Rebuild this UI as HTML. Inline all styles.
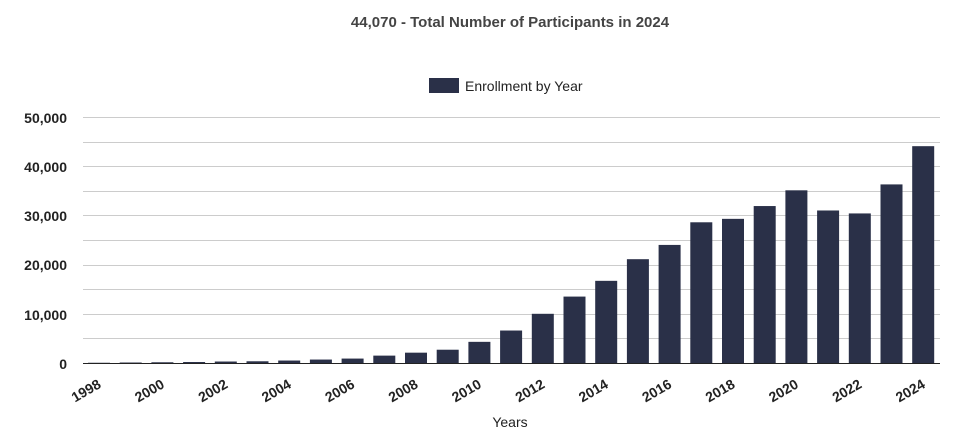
<!DOCTYPE html>
<html><head><meta charset="utf-8"><style>body{margin:0;background:#fff}</style></head>
<body>
<svg width="972" height="428" xmlns="http://www.w3.org/2000/svg" font-family="Liberation Sans, sans-serif">
<rect width="972" height="428" fill="#fff"/>
<text x="510" y="27" text-anchor="middle" font-size="15" font-weight="bold" fill="#444">44,070 - Total Number of Participants in 2024</text>
<rect x="429" y="78" width="30" height="15" fill="#2a3048"/>
<text x="465" y="91" font-size="14" fill="#222">Enrollment by Year</text>
<g stroke="#ccc" stroke-width="1">
<line x1="83" x2="940" y1="117.5" y2="117.5"/><line x1="83" x2="940" y1="142.5" y2="142.5"/>
<line x1="83" x2="940" y1="166.5" y2="166.5"/><line x1="83" x2="940" y1="191.5" y2="191.5"/>
<line x1="83" x2="940" y1="215.5" y2="215.5"/><line x1="83" x2="940" y1="240.5" y2="240.5"/>
<line x1="83" x2="940" y1="265.5" y2="265.5"/><line x1="83" x2="940" y1="289.5" y2="289.5"/>
<line x1="83" x2="940" y1="314.5" y2="314.5"/><line x1="83" x2="940" y1="338.5" y2="338.5"/>
</g>
<g font-size="14" font-weight="bold" fill="#222" text-anchor="end">
<text x="67" y="123">50,000</text><text x="67" y="172">40,000</text><text x="67" y="221">30,000</text>
<text x="67" y="270">20,000</text><text x="67" y="320">10,000</text><text x="67" y="369">0</text>
</g>
<g id="bars" fill="#2a3048"></g>
<line x1="83" x2="940" y1="363.5" y2="363.5" stroke="#222" stroke-width="1"/>
<g id="lbl" font-size="14" font-weight="bold" fill="#222" text-anchor="end"></g>
<text x="510" y="427" text-anchor="middle" font-size="14" fill="#222">Years</text>
<script>
var v=[50,100,150,200,300,350,500,700,900,1500,2100,2700,4300,6600,10000,13500,16700,21100,24000,28600,29300,31900,35100,31000,30400,36300,44070];
var b=document.getElementById('bars'),l=document.getElementById('lbl'),ns='http://www.w3.org/2000/svg';
v.forEach(function(d,i){var x=88+i*31.7,h=d/50000*246;
var r=document.createElementNS(ns,'rect');r.setAttribute('x',x);r.setAttribute('width',22);r.setAttribute('y',363-h);r.setAttribute('height',h);b.appendChild(r);
if(i%2==0){var t=document.createElementNS(ns,'text');var cx=x+14,cy=387;t.setAttribute('x',cx);t.setAttribute('y',cy);t.setAttribute('transform','rotate(-30 '+cx+' '+cy+')');t.textContent=1998+i;l.appendChild(t);}});
</script>
</svg>
</body></html>
